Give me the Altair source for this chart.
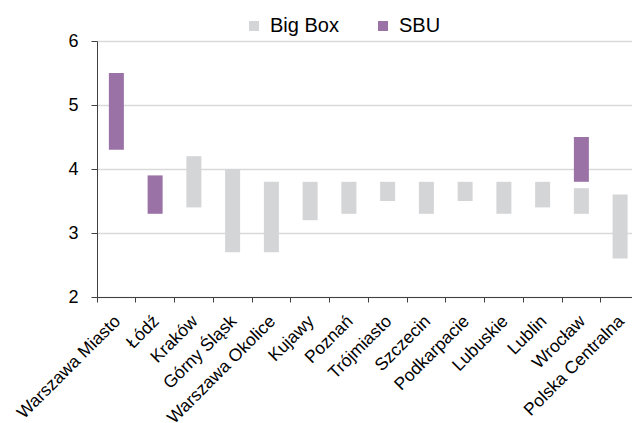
import altair as alt
import pandas as pd

categories = ["Warszawa Miasto", "Łódź", "Kraków", "Górny Śląsk", "Warszawa Okolice",
              "Kujawy", "Poznań", "Trójmiasto", "Szczecin", "Podkarpacie",
              "Lubuskie", "Lublin", "Wrocław", "Polska Centralna"]

bar_category = ["Warszawa Miasto", "Łódź", "Kraków", "Górny Śląsk", "Warszawa Okolice",
                "Kujawy", "Poznań", "Trójmiasto", "Szczecin", "Podkarpacie",
                "Lubuskie", "Lublin", "Wrocław", "Wrocław", "Polska Centralna"]
bar_series = ["SBU", "SBU", "Big Box", "Big Box", "Big Box",
              "Big Box", "Big Box", "Big Box", "Big Box", "Big Box",
              "Big Box", "Big Box", "Big Box", "SBU", "Big Box"]
bar_low = [4.3, 3.3, 3.4, 2.7, 2.7, 3.2, 3.3, 3.5, 3.3, 3.5, 3.3, 3.4, 3.3, 3.8, 2.6]
bar_high = [5.5, 3.9, 4.2, 4.0, 3.8, 3.8, 3.8, 3.8, 3.8, 3.8, 3.8, 3.8, 3.7, 4.5, 3.6]

series_names = ["Big Box", "SBU"]
series_colors = ["#d4d5d7", "#9b72a6"]

df = pd.DataFrame({"category": bar_category, "series": bar_series,
                   "low": bar_low, "high": bar_high})

FONT = "Liberation Sans"

chart = alt.Chart(df).mark_bar(size=15).encode(
    x=alt.X("category:N", sort=categories,
            scale=alt.Scale(domain=categories, range=[0, 542.5], paddingInner=0, paddingOuter=0),
            axis=alt.Axis(title=None, labelAngle=-45, labelAlign="right", labelBaseline="top",
                          labelFontSize=17.5, labelFont=FONT, labelColor="#000000",
                          labelPadding=10, labelOffset=-5,
                          tickSize=5, tickColor="#404040", domainColor="#404040",
                          grid=False, bandPosition=0, labelBound=False, labelOverlap=False)),
    y=alt.Y("low:Q", scale=alt.Scale(domain=[2, 6], nice=False, zero=False),
            axis=alt.Axis(title=None, values=[2, 3, 4, 5, 6], format="d",
                          labelFontSize=18, labelFont=FONT, labelColor="#000000",
                          labelPadding=13, tickSize=6, tickColor="#404040",
                          domainColor="#404040", gridColor="#d9d9d9", gridWidth=1.5)),
    y2="high:Q",
    color=alt.Color("series:N", scale=alt.Scale(domain=series_names, range=series_colors),
                    legend=alt.Legend(title=None, orient="none", direction="horizontal",
                                      legendX=147, legendY=-25, symbolType="square",
                                      symbolSize=100, symbolStrokeWidth=0,
                                      labelFontSize=20, labelFont=FONT, labelColor="#000000",
                                      labelOffset=6, columnPadding=34)),
).properties(
    width=535, height=256,
    autosize=alt.AutoSizeParams(type="none"),
    padding={"left": 97, "top": 41, "right": 0, "bottom": 126},
).configure_view(stroke=None).configure_axis(domainWidth=1, tickWidth=1)

chart.save("out.html", embed_options={"renderer": "svg", "actions": False})
